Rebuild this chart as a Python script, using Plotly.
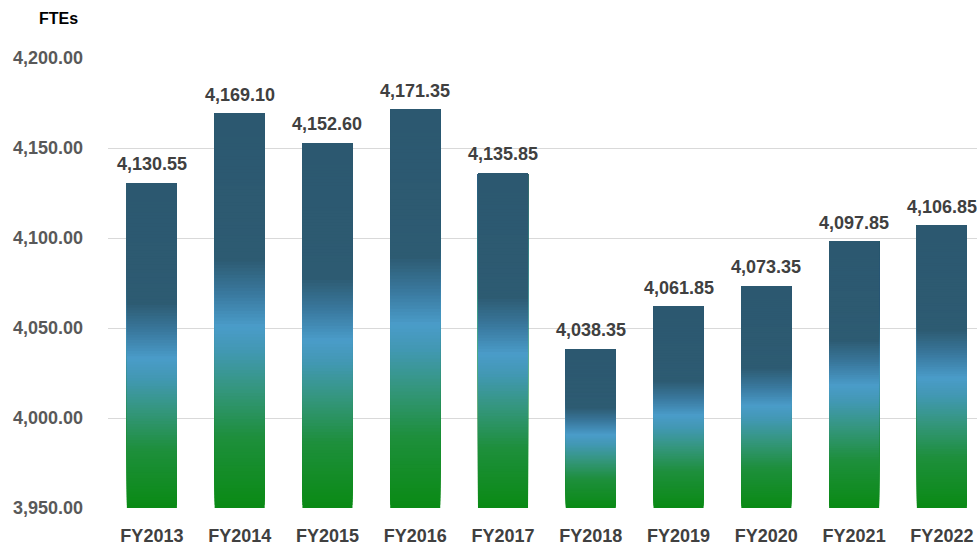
import plotly.graph_objects as go
import numpy as np

categories = ["FY2013", "FY2014", "FY2015", "FY2016", "FY2017",
              "FY2018", "FY2019", "FY2020", "FY2021", "FY2022"]
ftes = [4130.55, 4169.10, 4152.60, 4171.35, 4135.85,
        4038.35, 4061.85, 4073.35, 4097.85, 4106.85]
y_tick_values = [3950, 4000, 4050, 4100, 4150, 4200]

BASE = 3950
FONT = "Liberation Sans, Arial, sans-serif"

# gradient stops (fraction of bar height from bottom -> colour)
stops = [(0.0, (10, 138, 20)), (0.18, (30, 143, 60)), (0.30, (52, 150, 125)),
         (0.40, (66, 152, 180)), (0.46, (74, 156, 201)), (0.54, (58, 122, 160)),
         (0.63, (45, 91, 114)), (1.0, (44, 88, 112))]


def colour_at(f):
    for (f0, c0), (f1, c1) in zip(stops[:-1], stops[1:]):
        if f0 <= f <= f1:
            t = (f - f0) / (f1 - f0) if f1 > f0 else 0
            c = [round(a + (b - a) * t) for a, b in zip(c0, c1)]
            return "rgb(%d,%d,%d)" % tuple(c)
    return "rgb(%d,%d,%d)" % stops[-1][1]


fig = go.Figure()
N = 120
heights = np.array(ftes) - BASE
for i in range(N):
    f0 = i / N
    fig.add_trace(go.Bar(
        x=categories,
        base=BASE + heights * f0,
        y=heights * (1 - f0),
        width=0.57,
        marker=dict(color=colour_at(f0 + 0.5 / N), line=dict(width=0)),
        hoverinfo="skip",
        showlegend=False,
    ))

for c, v in zip(categories, ftes):
    fig.add_annotation(x=c, y=v, text=f"{v:,.2f}", showarrow=False,
                       yanchor="bottom", yshift=7,
                       font=dict(family=FONT, size=18, color="#404040", weight="bold"))

fig.add_annotation(xref="paper", yref="paper", x=-0.082, y=1.087,
                   xanchor="left", yanchor="middle", text="FTEs", showarrow=False,
                   font=dict(family=FONT, size=16, color="#000000", weight="bold"))

fig.update_layout(
    width=977, height=547,
    margin=dict(l=108, r=0, t=58, b=39),
    barmode="overlay",
    plot_bgcolor="white", paper_bgcolor="white",
    xaxis=dict(range=[-0.5, 9.4], showgrid=False, showline=False, zeroline=False,
               ticks="", ticklabelstandoff=15, automargin=False,
               tickfont=dict(family=FONT, size=18, color="#404040", weight="bold")),
    yaxis=dict(range=[3950, 4200], tickvals=y_tick_values, tickformat=",.2f",
               showgrid=True, gridcolor="#D9D9D9", gridwidth=1, zeroline=False,
               showline=False, ticks="", ticklabelstandoff=24, automargin=False,
               tickfont=dict(family=FONT, size=18, color="#595959", weight="bold")),
)

fig.write_html("out.html", config={"displayModeBar": False},
               post_script="document.body.style.margin='0';document.body.style.overflow='hidden';")
